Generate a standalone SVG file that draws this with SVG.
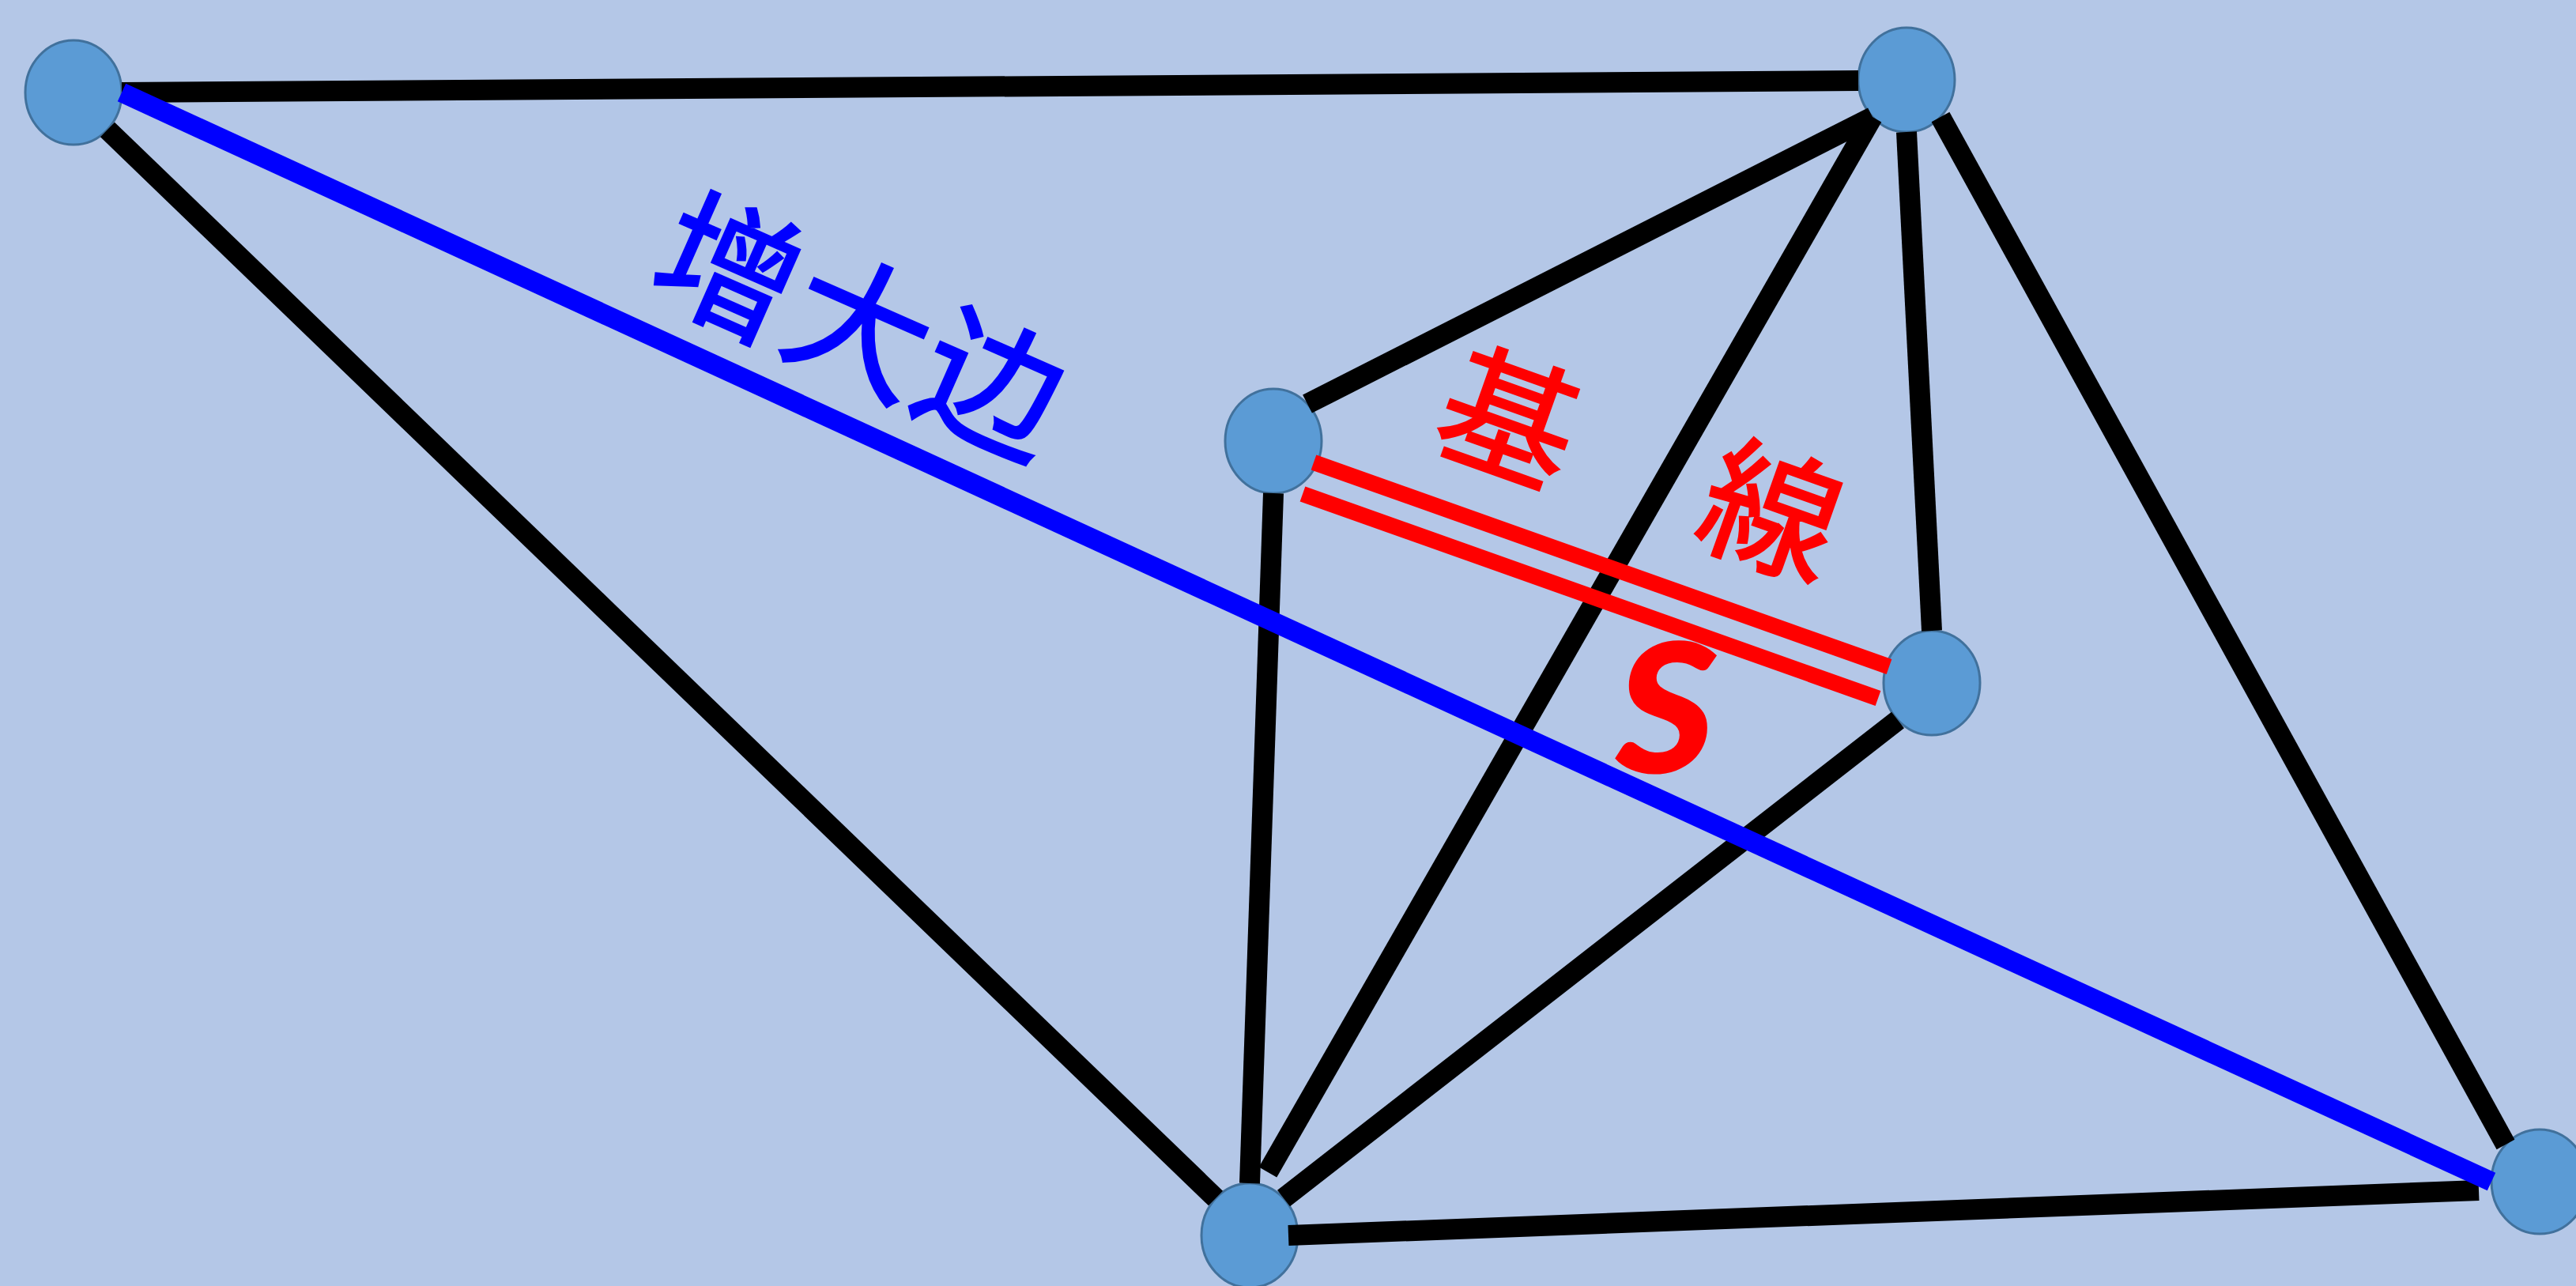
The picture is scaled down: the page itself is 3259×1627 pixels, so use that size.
<svg xmlns="http://www.w3.org/2000/svg" width="3259" height="1627" viewBox="0 0 3259 1627">
  <style>
    .node { fill: #5B9BD5; stroke: #41719C; stroke-width: 3; }
    .edge { stroke: #000000; stroke-width: 26; stroke-linecap: butt; fill: none; }
    .blue { stroke: #0000FF; stroke-width: 25; stroke-linecap: butt; fill: none; }
    .red { stroke: #FF0000; stroke-width: 20; stroke-linecap: butt; fill: none; }
    .lblBlue { fill: #0000FF; stroke: #0000FF; stroke-width: 3; font-family: "Noto Sans CJK SC", "Noto Sans CJK JP", sans-serif; font-size: 178px; font-weight: 400; letter-spacing: 4px; }
    .lblRed { fill: #FF0000; stroke: #FF0000; stroke-width: 3; font-family: "Noto Sans CJK JP", "Noto Sans CJK SC", sans-serif; font-size: 172px; font-weight: 400; }
    .lblS { fill: #FF0000; font-family: Lato, "Open Sans", sans-serif; font-size: 320px; font-weight: bold; font-style: italic; }
  </style>
  <rect x="0" y="0" width="3259" height="1627" fill="#B4C7E7"/>
  <g id="nodes">
    <g id="node-A"><ellipse class="node" cx="93" cy="117" rx="61" ry="66"/></g>
    <g id="node-B"><ellipse class="node" cx="2412" cy="101" rx="61" ry="66"/></g>
    <g id="node-C"><ellipse class="node" cx="1611" cy="558" rx="61" ry="66"/></g>
    <g id="node-D"><ellipse class="node" cx="2444" cy="864" rx="61" ry="66"/></g>
    <g id="node-E"><ellipse class="node" cx="1581" cy="1563" rx="61" ry="66"/></g>
    <g id="node-F"><ellipse class="node" cx="3213" cy="1495" rx="61" ry="66"/></g>
  </g>
  <g id="connectors">
    <line class="edge" x1="154" y1="117" x2="2351" y2="102"/>
    <line class="edge" x1="136" y1="164" x2="1538" y2="1516"/>
    <line class="edge" x1="2369" y1="148" x2="1654" y2="511"/>
    <line class="edge" x1="2369" y1="148" x2="1604" y2="1483"/>
    <line class="edge" x1="2412" y1="167" x2="2444" y2="798"/>
    <line class="edge" x1="2455" y1="148" x2="3170" y2="1448"/>
    <line class="edge" x1="1611" y1="624" x2="1581" y2="1497"/>
    <line class="edge" x1="2401" y1="911" x2="1624" y2="1516"/>
    <line class="edge" x1="1630" y1="1563" x2="3136" y2="1506"/>
    <line class="blue" x1="154" y1="117" x2="3152" y2="1495"/>
    <line class="red" x1="1662" y1="585" x2="2390" y2="843.5"/>
    <line class="red" x1="1648" y1="625" x2="2376" y2="883.5"/>
  </g>
  <g id="labels">
    <text class="lblBlue" transform="translate(814,364) rotate(23.8)">增大边</text>
    <text class="lblRed" transform="translate(1807,561) rotate(19.5)" letter-spacing="180">基線</text>
    <text class="lblS" x="2111" y="977" text-anchor="middle">s</text>
  </g>
</svg>
